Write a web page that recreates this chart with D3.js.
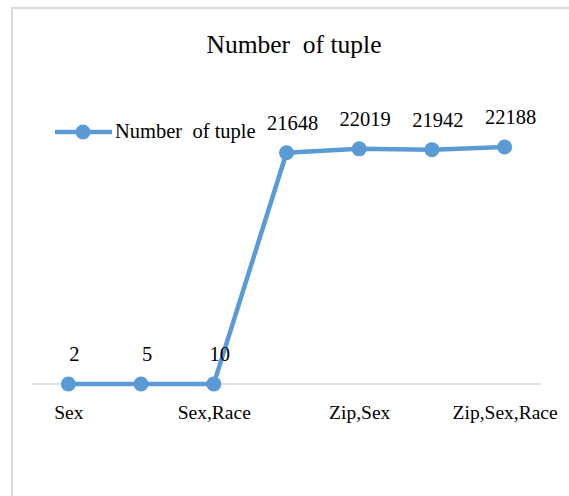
<!DOCTYPE html>
<html>
<head>
<meta charset="utf-8">
<script src="https://cdn.jsdelivr.net/npm/d3@7"></script>
<style>
  html, body { margin: 0; padding: 0; background: #fff; }
  svg { display: block; }
</style>
</head>
<body>
<svg id="chart" width="569" height="496"></svg>
<script>
const categories = ["Sex", "Race", "Sex,Race", "Zip", "Zip,Sex", "Zip,Race", "Zip,Sex,Race"];
const values = [2, 5, 10, 21648, 22019, 21942, 22188];
const seriesName = "Number  of tuple";
const chartTitle = "Number  of tuple";

const W = 569, H = 496;
const color = "#5b9bd5";
const FONT = "'Liberation Serif', 'Times New Roman', serif";
const svg = d3.select("#chart");

// chart frame
svg.append("rect")
  .attr("x", 12).attr("y", 8)
  .attr("width", W + 20).attr("height", H + 20)
  .attr("fill", "#fff")
  .attr("stroke", "#d9d9d9").attr("stroke-width", 2);

const plot = { left: 32, right: 541, top: 117, bottom: 384 };

const x = d3.scalePoint()
  .domain(categories)
  .range([plot.left, plot.right])
  .padding(0.5);

const y = d3.scaleLinear()
  .domain([0, 25000])
  .range([plot.bottom, plot.top]);

function styleText(sel, size) {
  sel.style("font-family", FONT)
     .style("font-size", size + "px")
     .style("fill", "#000")
     .style("white-space", "pre");
}

// title
svg.append("text")
  .attr("x", 294).attr("y", 53)
  .attr("text-anchor", "middle")
  .call(styleText, 25.5)
  .text(chartTitle);

// x axis
const xAxis = d3.axisBottom(x)
  .tickSize(0)
  .tickPadding(14)
  .tickFormat((d, i) => i % 2 === 0 ? d : "");
const gx = svg.append("g")
  .attr("transform", `translate(0,${plot.bottom})`)
  .call(xAxis);
gx.attr("font-family", null).attr("font-size", null);
gx.select(".domain")
  .attr("d", `M${plot.left},0H${plot.right}`)
  .attr("stroke", "#d9d9d9").attr("stroke-width", 1.5);
gx.selectAll(".tick text")
  .call(styleText, 19.5)
  .attr("dy", "0.71em")
  .attr("y", 21);

// line
const line = d3.line()
  .x((d, i) => x(categories[i]))
  .y(d => y(d));
svg.append("path")
  .datum(values)
  .attr("d", line)
  .attr("fill", "none")
  .attr("stroke", color)
  .attr("stroke-width", 4.5)
  .attr("stroke-linejoin", "round");

svg.selectAll("circle.pt")
  .data(values)
  .enter().append("circle")
  .attr("class", "pt")
  .attr("cx", (d, i) => x(categories[i]))
  .attr("cy", d => y(d))
  .attr("r", 7.5)
  .attr("fill", color);

// data labels
svg.selectAll("text.lbl")
  .data(values)
  .enter().append("text")
  .attr("class", "lbl")
  .attr("x", (d, i) => x(categories[i]) + 6)
  .attr("y", d => y(d) - 23)
  .attr("text-anchor", "middle")
  .call(styleText, 20.5)
  .text(d => d);

// legend
const lg = svg.append("g").attr("transform", "translate(55,132)");
lg.append("line")
  .attr("x1", 0).attr("x2", 57).attr("y1", 0).attr("y2", 0)
  .attr("stroke", color).attr("stroke-width", 4.5);
lg.append("circle")
  .attr("cx", 28).attr("cy", 0).attr("r", 7.5).attr("fill", color);
lg.append("text")
  .attr("x", 60).attr("y", 6)
  .call(styleText, 20.5)
  .text(seriesName);
</script>
</body>
</html>
